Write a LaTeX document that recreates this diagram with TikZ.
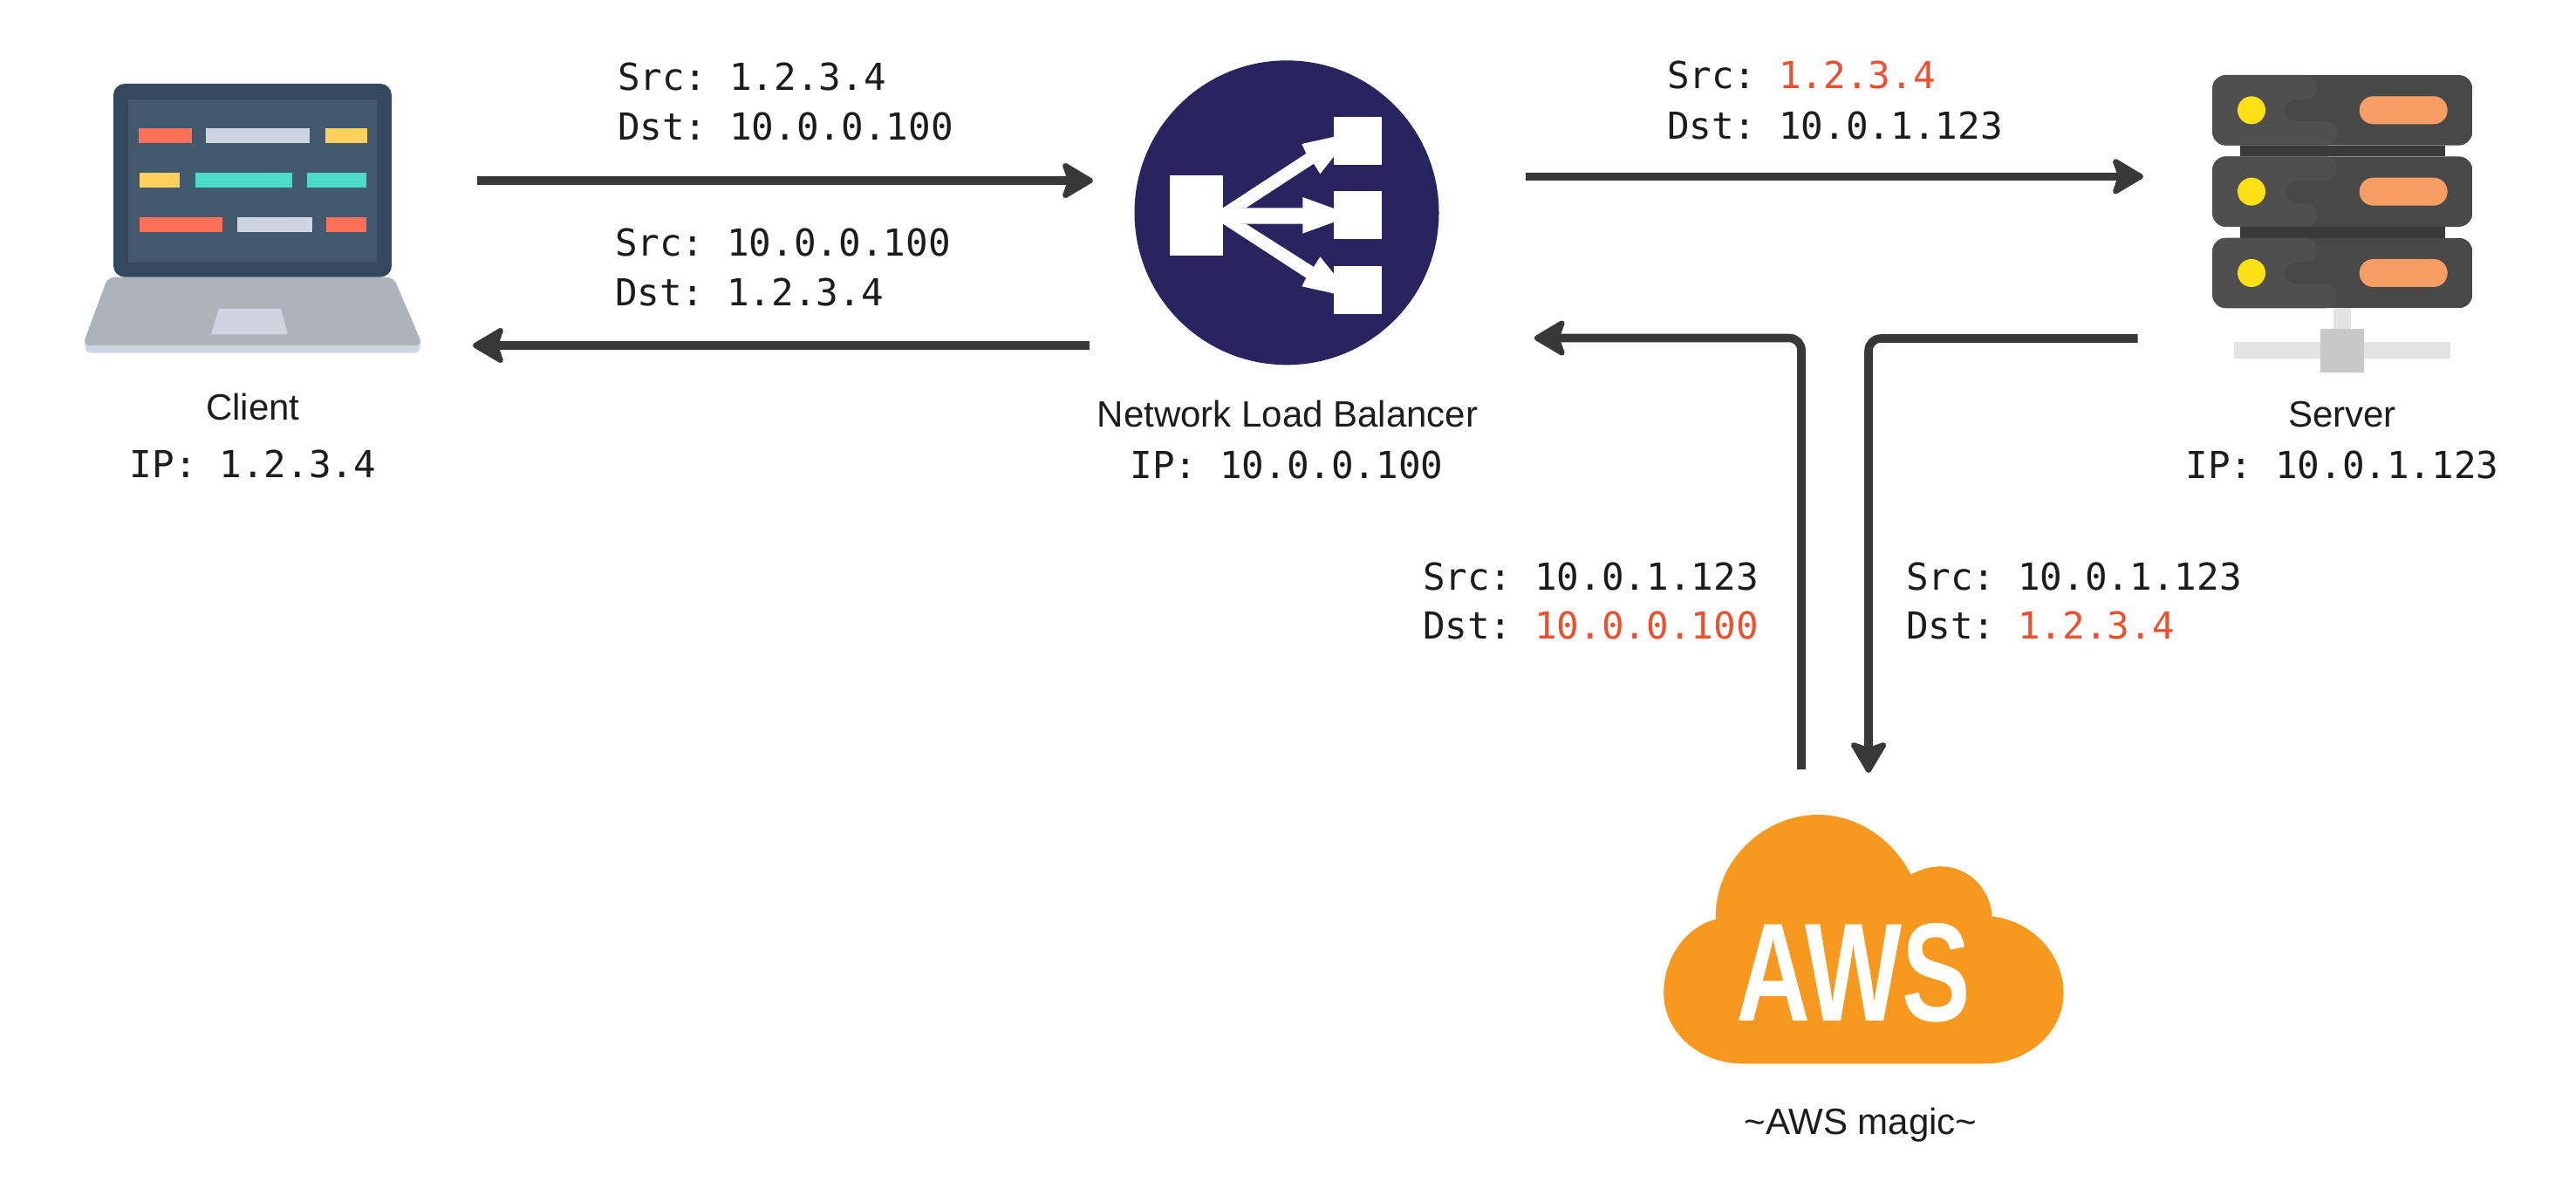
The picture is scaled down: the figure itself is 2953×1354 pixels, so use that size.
\documentclass[tikz,border=0pt]{standalone}
\usepackage{fontspec}
\usepackage{graphicx}
\setmainfont{Liberation Sans}
\newfontfamily\monof{DejaVu Sans Mono}
\usetikzlibrary{arrows.meta}
\definecolor{ink}{HTML}{1C1C1C}
\definecolor{redip}{HTML}{EE4F2C}
\definecolor{arrowc}{HTML}{383838}
\definecolor{lapdark}{HTML}{34495E}
\definecolor{lapscr}{HTML}{435A6E}
\definecolor{lapred}{HTML}{FF7058}
\definecolor{lapgray}{HTML}{CDD6E0}
\definecolor{lapyel}{HTML}{FFD05B}
\definecolor{lapteal}{HTML}{4CDBC4}
\definecolor{lapbase}{HTML}{ACB3BA}
\definecolor{nlbblue}{HTML}{292360}
\definecolor{srvd}{HTML}{484848}
\definecolor{srvl}{HTML}{4F4F4F}
\definecolor{srvk}{HTML}{3A3A3A}
\definecolor{srvy}{HTML}{FDE016}
\definecolor{srvo}{HTML}{F89D64}
\definecolor{standl}{HTML}{E3E3E3}
\definecolor{standd}{HTML}{C8C8C8}
\definecolor{awso}{HTML}{F7991F}
\tikzset{
  x=0.5pt,y=-0.5pt,
  mono/.style={inner sep=0pt,outer sep=0pt,text=ink,font=\monof\frenchspacing\fontsize{21.3pt}{25pt}\selectfont},
  sans/.style={inner sep=0pt,outer sep=0pt,text=ink,font=\fontsize{21pt}{25pt}\selectfont},
  flow/.style={draw=arrowc,line width=4.8pt,rounded corners=7pt,
    -{Stealth[length=20pt,width=23.5pt,inset=4pt,round,line width=3pt]}},
  zoomed/.style={x=0.5pt/3,y=-0.5pt/3},
}
\newcommand{\redip}[1]{\textcolor{redip}{#1}}
\begin{document}
\begin{tikzpicture}
\path[use as bounding box] (0,0) rectangle (2953,1354);
% ---------- laptop
\begin{scope}[shift={(60,60)},zoomed]
\fill[lapgray,rounded corners=3pt] (114,985) rectangle (1264,1034);
\fill[lapbase,rounded corners=4pt] (191,773) -- (1173,773) -- (1274,1008) -- (104,1008) -- cycle;
\fill[lapdark,rounded corners=6.5pt] (210,108) rectangle (1167,773);
\fill[lapscr] (262,162) rectangle (1115,723);
\fill[lapgray] (572,882) -- (786,882) -- (810,970) -- (546,970) -- cycle;
\fill[lapred] (297,262) rectangle (479,313);
\fill[lapgray] (529,262) rectangle (886,313);
\fill[lapyel] (938,262) rectangle (1083,313);
\fill[lapyel] (301,415) rectangle (438,466);
\fill[lapteal] (491,415) rectangle (826,466);
\fill[lapteal] (876,415) rectangle (1080,466);
\fill[lapred] (301,568) rectangle (584,619);
\fill[lapgray] (636,568) rectangle (895,619);
\fill[lapred] (942,568) rectangle (1080,619);
\end{scope}
% ---------- load balancer
\node[circle,fill=nlbblue,minimum size=174.5pt,inner sep=0pt,outer sep=0pt] (nlb) at (1475,243.8) {};
\begin{scope}[shift={(1250,50)},zoomed]
\fill[white] (273,454) rectangle (456,728);
\fill[white] (838,253) rectangle (1003,418);
\fill[white] (838,508) rectangle (1003,673);
\fill[white] (838,764) rectangle (1003,929);
\fill[white] (450,565) -- (730,565) -- (730,528) -- (840,568) -- (840,613) -- (730,653) -- (730,620) -- (450,620) -- cycle;
\fill[white] (450,569) -- (742,378) -- (727,345) -- (840,320) -- (840,385) -- (790,448) -- (768,413) -- (535,565) -- cycle;
\fill[white] (450,616) -- (742,806) -- (727,835) -- (840,860) -- (840,795) -- (790,733) -- (768,768) -- (535,620) -- cycle;
\end{scope}
% ---------- server
\begin{scope}[shift={(2460,60)},zoomed]
\fill[standl] (646,880) rectangle (705,950);
\fill[standl] (304,995) rectangle (1047,1054);
\fill[standd] (600,950) rectangle (751,1100);
\fill[srvk] (323,320) rectangle (1028,358);
\fill[srvk] (323,600) rectangle (1028,638);
\foreach \t/\a/\b in {78/588/658,358/658/588,638/588/658}{
  \begin{scope}
  \clip[rounded corners=8pt] (228,\t) rectangle (1123,\t+242);
  \fill[srvd] (228,\t) rectangle (1123,\t+242);
  \fill[srvl,rounded corners=6.5pt] (150,\t) -- (\a,\t) -- (\a,\t+84) -- (475,\t+84) -- (475,\t+159) -- (\b,\t+159) -- (\b,\t+242) -- (150,\t+242) -- cycle;
  \end{scope}
  \fill[srvy] (363,\t+121) circle [radius=48];
  \fill[srvo,rounded corners=7.9pt] (734,\t+73) rectangle (1037,\t+169);
}
\end{scope}
% ---------- cloud
\begin{scope}[shift={(1860,880)},x=0.5pt/2.904,y=-0.5pt/3]
\fill[awso] (400,1018) .. controls (255,1018) and (137,910) .. (137,775)
  .. controls (137,650) and (215,545) .. (310,522)
  .. controls (305,320) and (470,162) .. (650,162)
  .. controls (780,162) and (900,245) .. (960,368)
  .. controls (990,350) and (1025,340) .. (1060,340)
  .. controls (1150,340) and (1225,415) .. (1230,512)
  .. controls (1360,525) and (1468,640) .. (1468,775)
  .. controls (1468,910) and (1350,1018) .. (1205,1018) -- cycle;
\end{scope}
\node[inner sep=0pt,outer sep=0pt,anchor=base,text=white] (awsword) at (2125,1170) {\resizebox{134pt}{56pt}{\bfseries AWS}};
% ---------- captions
\node[sans,anchor=base] (clientname) at (290,481) {Client};
\node[mono,anchor=base] (clientip) at (290,547) {IP: 1.2.3.4};
\node[sans,anchor=base] (nlbname) at (1476,489) {Network Load Balancer};
\node[mono,anchor=base] (nlbip) at (1475,548) {IP: 10.0.0.100};
\node[sans,anchor=base] (servername) at (2685,489) {Server};
\node[mono,anchor=base] (serverip) at (2685,548) {IP: 10.0.1.123};
\node[sans,anchor=base] (magic) at (2133,1300) {\char`\~AWS magic\char`\~};
% ---------- packet labels
\node[mono,anchor=base west] (la1) at (708,104) {Src: 1.2.3.4};
\node[mono,anchor=base west] (la2) at (708,161) {Dst: 10.0.0.100};
\node[mono,anchor=base west] (lb1) at (705,293) {Src: 10.0.0.100};
\node[mono,anchor=base west] (lb2) at (705,350) {Dst: 1.2.3.4};
\node[mono,anchor=base west] (lc1) at (1911,102) {Src: \redip{1.2.3.4}};
\node[mono,anchor=base west] (lc2) at (1911,159) {Dst: 10.0.1.123};
\node[mono,anchor=base west] (ld1) at (1631,676) {Src: 10.0.1.123};
\node[mono,anchor=base west] (ld2) at (1631,732) {Dst: \redip{10.0.0.100}};
\node[mono,anchor=base west] (le1) at (2185,676) {Src: 10.0.1.123};
\node[mono,anchor=base west] (le2) at (2185,732) {Dst: \redip{1.2.3.4}};
% ---------- connectors
\coordinate (a1s) at (547,207); \coordinate (a1e) at (1253,207);
\coordinate (a2s) at (1248.5,396); \coordinate (a2e) at (542,396);
\coordinate (a3s) at (1749,202.3); \coordinate (a3e) at (2457,202.3);
\coordinate (a4s) at (2450.5,388); \coordinate (a4c) at (2142,388); \coordinate (a4e) at (2142,886);
\coordinate (a5s) at (2065,882); \coordinate (a5c) at (2065,387.5); \coordinate (a5e) at (1758.7,387.5);
\draw[flow] (a1s) -- (a1e);
\draw[flow] (a2s) -- (a2e);
\draw[flow] (a3s) -- (a3e);
\draw[flow] (a4s) -- (a4c) -- (a4e);
\draw[flow] (a5s) -- (a5c) -- (a5e);
\end{tikzpicture}
\end{document}
